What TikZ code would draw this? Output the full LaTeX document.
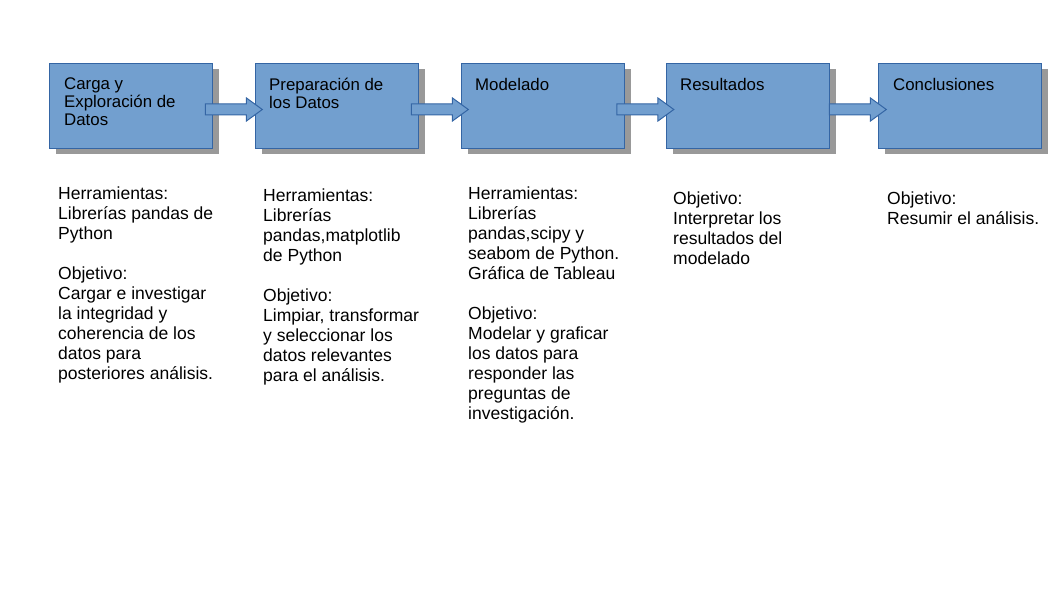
\documentclass[tikz,border=0pt]{standalone}
\usepackage{fontspec}
\setmainfont{Liberation Sans}
\usetikzlibrary{calc,shapes.arrows,shadows}

\definecolor{relleno}{HTML}{729FCF}
\definecolor{borde}{HTML}{3465A4}
\definecolor{sombra}{HTML}{999999}

\tikzset{
  caja/.style={draw=borde, fill=relleno, line width=1bp, inner sep=0pt,
    minimum width=163bp, minimum height=85bp, anchor=north west,
    drop shadow={shadow xshift=6bp, shadow yshift=-6bp, fill=sombra, opacity=1}},
  titulo/.style={anchor=north west, align=left, inner sep=0pt,
    font=\fontsize{16.9}{17.7}\selectfont},
  texto/.style={anchor=north west, align=left, inner sep=0pt,
    font=\fontsize{17.6}{20}\selectfont},
  flecha/.style={single arrow, draw=borde, fill=relleno, line width=1bp,
    inner xsep=0pt, inner ysep=5bp, minimum height=57bp,
    single arrow head extend=6bp, single arrow tip angle=72}
}

\begin{document}
\begin{tikzpicture}[x=1bp,y=-1bp]
    \useasboundingbox (0,0) rectangle (1060,595);
    \node[caja] (carga) at (49,63) {};
    \node[caja] (prep) at (255,63) {};
    \node[caja] (modelo) at (461,63) {};
    \node[caja] (result) at (666,63) {};
    \node[caja] (concl) at (878,63) {};
    \node[titulo] (t1) at ($(carga.north west)+(15,15)$) {Carga y\\Exploración de\\Datos};
    \node[titulo] (t2) at ($(prep.north west)+(14,15)$) {Preparación de\\los Datos};
    \node[titulo] (t3) at ($(modelo.north west)+(14,15)$) {Modelado};
    \node[titulo] (t4) at ($(result.north west)+(14,15)$) {Resultados};
    \node[titulo] (t5) at ($(concl.north west)+(15,15)$) {Conclusiones};
    \foreach \a/\b/\s in {carga/prep/-4, prep/modelo/-4, modelo/result/-4, result/concl/0}
        \path (\a) -- (\b) node[flecha, midway, xshift=\s bp, yshift=-3.5bp] {};
    \node[texto] (d1) at (58,187) {Herramientas:\\Librerías pandas de\\Python\\[20bp]Objetivo:\\Cargar e investigar\\la integridad y\\coherencia de los\\datos para\\posteriores análisis.};
    \node[texto] (d2) at (263,189) {Herramientas:\\Librerías\\pandas,matplotlib\\de Python\\[20bp]Objetivo:\\Limpiar, transformar\\y seleccionar los\\datos relevantes\\para el análisis.};
    \node[texto] (d3) at (468,187) {Herramientas:\\Librerías\\pandas,scipy y\\seabom de Python.\\Gráfica de Tableau\\[20bp]Objetivo:\\Modelar y graficar\\los datos para\\responder las\\preguntas de\\investigación.};
    \node[texto] (d4) at (673,192) {Objetivo:\\Interpretar los\\resultados del\\modelado};
    \node[texto] (d5) at (887,192) {Objetivo:\\Resumir el análisis.};
\end{tikzpicture}
\end{document}
